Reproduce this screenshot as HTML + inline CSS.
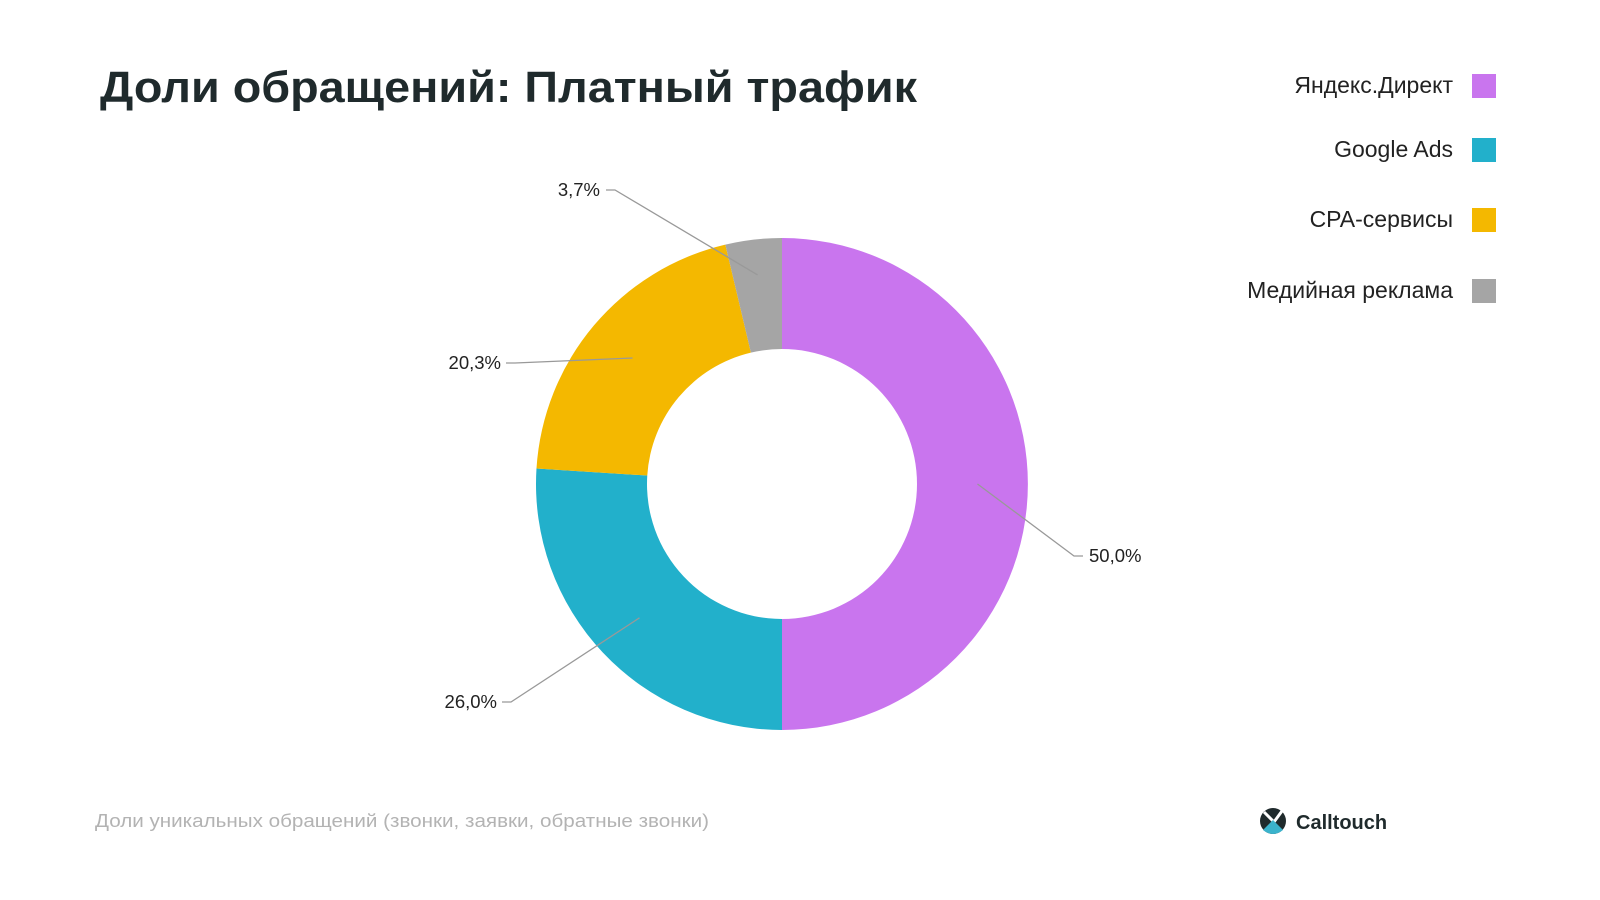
<!DOCTYPE html>
<html><head><meta charset="utf-8"><style>
html,body{margin:0;padding:0;background:#fff}
svg{display:block}
text{font-family:"Liberation Sans",sans-serif}
</style></head><body>
<svg width="1600" height="900" viewBox="0 0 1600 900">
<text x="100" y="102" font-size="44" font-weight="bold" fill="#1f2a2c" textLength="817" lengthAdjust="spacingAndGlyphs">Доли обращений: Платный трафик</text>
<g id="donut"></g>
<g id="labels"></g>
<g id="legend"></g>
<text x="95" y="827" font-size="18.5" fill="#b3b3b3" textLength="614" lengthAdjust="spacingAndGlyphs">Доли уникальных обращений (звонки, заявки, обратные звонки)</text>
<g>
<circle cx="1273" cy="821" r="13" fill="#1f2a2c"/>
<path d="M1264 812 L1274 822 L1282 811" stroke="#fff" stroke-width="3" fill="none"/>
<path d="M1263 830 L1273 820 L1283 830 Q1273 838 1263 830Z" fill="#3bb3cc"/>
<text x="1296" y="829" font-size="20" font-weight="bold" fill="#1f2a2c">Calltouch</text>
</g>
</svg>
<script>
const categories=["Яндекс.Директ","Google Ads","CPA-сервисы","Медийная реклама"];
const values=[50.0,26.0,20.3,3.7];
const labels=["50,0%","26,0%","20,3%","3,7%"];
const colors=["#c975ee","#22b0cb","#f4b800","#a5a5a5"];
const NS="http://www.w3.org/2000/svg";
const cx=782,cy=484,R=246,r=135;
const total=values.reduce((a,b)=>a+b,0);
function pt(frac,rad){const a=frac*2*Math.PI-Math.PI/2;return [cx+rad*Math.cos(a),cy+rad*Math.sin(a)];}
const donut=document.getElementById('donut');
let acc=0;
values.forEach((v,i)=>{
  const f0=acc/total,f1=(acc+v)/total;acc+=v;
  const large=(f1-f0)>0.5?1:0;
  const [x0,y0]=pt(f0,R),[x1,y1]=pt(f1,R),[x2,y2]=pt(f1,r),[x3,y3]=pt(f0,r);
  const p=document.createElementNS(NS,'path');
  p.setAttribute('d',`M${x0} ${y0}A${R} ${R} 0 ${large} 1 ${x1} ${y1}L${x2} ${y2}A${r} ${r} 0 ${large} 0 ${x3} ${y3}Z`);
  p.setAttribute('fill',colors[i]);
  
  
  donut.appendChild(p);
});
const lab=document.getElementById('labels');
const anchors=[[1083,556,'start',1089,562],[502,702,'end',497,708],[506,363,'end',501,369],[606,190,'end',600,196]];
acc=0;
values.forEach((v,i)=>{
  const mid=(acc+v/2)/total;acc+=v;
  const rad=i===3?(R+r)/2+20:(R+r)/2+5;
  const [mx,my]=pt(mid,rad);
  const a=anchors[i];
  const elbow=a[2]==='start'?a[0]-9:a[0]+9;
  const l=document.createElementNS(NS,'polyline');
  l.setAttribute('points',`${mx},${my} ${elbow},${a[1]} ${a[0]},${a[1]}`);
  l.setAttribute('fill','none');l.setAttribute('stroke','#999');l.setAttribute('stroke-width','1.3');
  
  
  lab.appendChild(l);
  const t=document.createElementNS(NS,'text');
  t.setAttribute('x',a[3]);t.setAttribute('y',a[4]);t.setAttribute('text-anchor',a[2]);
  t.setAttribute('font-size','18.5');t.setAttribute('fill','#222');
  t.textContent=labels[i];
  
  
  lab.appendChild(t);
});
const leg=document.getElementById('legend');
const legY=[74,138,208,279];
categories.forEach((c,i)=>{
  const g=document.createElementNS(NS,'g');
  
  
  const s=document.createElementNS(NS,'rect');
  s.setAttribute('x',1472);s.setAttribute('y',legY[i]);s.setAttribute('width',24);s.setAttribute('height',24);s.setAttribute('fill',colors[i]);
  g.appendChild(s);
  const t=document.createElementNS(NS,'text');
  t.setAttribute('x',1453);t.setAttribute('y',legY[i]+19);t.setAttribute('text-anchor','end');
  t.setAttribute('font-size','23');t.setAttribute('fill','#222');
  t.textContent=c;
  g.appendChild(t);
  leg.appendChild(g);
});
</script>
</body></html>
